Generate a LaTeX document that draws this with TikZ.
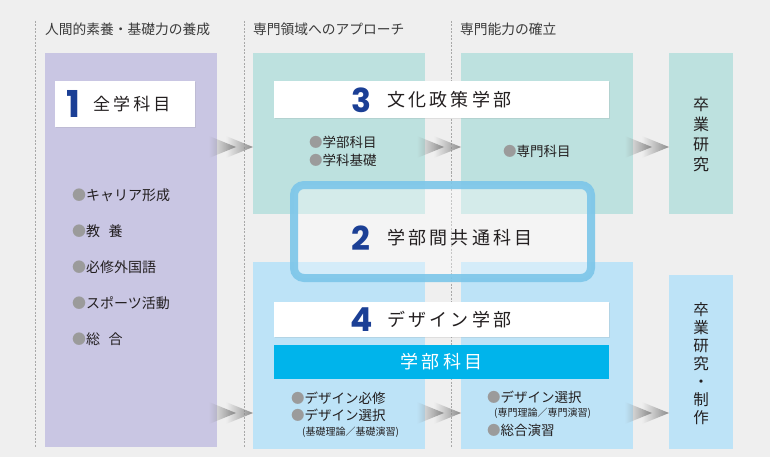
\documentclass[tikz,border=0pt]{standalone}
\usepackage{fontspec}
\setmainfont{Noto Sans CJK JP}
\newfontfamily\numfont{Poppins}
\newfontfamily\spacedfont{Noto Sans CJK JP}[LetterSpace=18]
\usetikzlibrary{positioning,fadings,shadows}

\definecolor{bggray}{HTML}{EFEFEF}
\definecolor{lavender}{HTML}{C9C6E3}
\definecolor{mint}{HTML}{BDE1DF}
\definecolor{skyblue}{HTML}{BDE3F7}
\definecolor{cyanbar}{HTML}{00B4EB}
\definecolor{ringblue}{HTML}{7CC6E9}
\definecolor{numblue}{HTML}{1B3F95}
\definecolor{txtdark}{HTML}{231F20}
\definecolor{bulgray}{HTML}{9B9B9B}
\definecolor{headgray}{HTML}{3A3A3A}
\definecolor{dashgray}{HTML}{A8A8A8}

\newcommand\bulletdot{{\color{bulgray}●}}

\tikzset{
  colbox/.style={draw=none, inner sep=0, outer sep=0, anchor=north west},
  titlebox/.style={colbox, fill=white,
    drop shadow={shadow xshift=1pt, shadow yshift=-1.2pt, opacity=0.15}},
  ringbox/.style={colbox, draw=ringblue, line width=8, rounded corners=10,
    fill=white, fill opacity=0.35, draw opacity=0.9},
  numtxt/.style={inner sep=0, anchor=west, text=numblue,
    font=\numfont\bfseries\fontsize{33}{33}\selectfont},
  titletxt/.style={inner sep=0, text=txtdark, font=\spacedfont\fontsize{18}{18}\selectfont},
  itemtxt/.style={inner sep=0, anchor=west, align=left, text=txtdark,
    font=\fontsize{13.5}{18}\selectfont},
  smalltxt/.style={inner sep=0, anchor=west, text=txtdark, font=\fontsize{10}{12}\selectfont},
  vtxt/.style={inner sep=0, align=center, text=txtdark, font=\fontsize{16}{20}\selectfont},
  headtxt/.style={inner sep=0, anchor=west, text=headgray, font=\fontsize{13.75}{16}\selectfont},
  sepline/.style={draw=dashgray, line width=0.6, dash pattern=on 2pt off 1.5pt},
  chevron/.pic={
    \fill[black!45, path fading=west] (-44,-11) -- (-17,0) -- (-44,11) -- cycle;
    \fill[black!45, path fading=west] (-27,-11) -- (0,0) -- (-27,11) -- cycle;
  }
}

\begin{document}
\begin{tikzpicture}[x=1pt, y=-1pt]
  \fill[bggray] (0,0) rectangle (770,457);% background
  \useasboundingbox (0,0) rectangle (770,457);
  % column heads
  \node[headtxt] (head1) at (45,29) {人間的素養・基礎力の養成};
  \node[headtxt] (head2) at (253,29) {専門領域へのアプローチ};
  \node[headtxt] (head3) at (460,29) {専門能力の確立};
  \draw[sepline] (35,21) -- (35,447);% left rule
  \draw[sepline] (244,21) -- (244,447);% second rule
  \draw[sepline] (451,21) -- (451,447);% third rule
  % coloured columns
  \node[colbox, fill=lavender, minimum width=172, minimum height=394] (allcol) at (45,53) {};
  \node[colbox, fill=mint, minimum width=172, minimum height=161] (cultA) at (253,53) {};
  \node[colbox, fill=mint, minimum width=172, minimum height=161] (cultB) at (461,53) {};
  \node[colbox, fill=mint, minimum width=64, minimum height=161] (cultC) at (669,53) {};
  \node[colbox, fill=skyblue, minimum width=172, minimum height=187] (desA) at (253,262) {};
  \node[colbox, fill=skyblue, minimum width=172, minimum height=187] (desB) at (461,262) {};
  \node[colbox, fill=skyblue, minimum width=64, minimum height=174] (desC) at (669,275) {};
  % chevrons between the columns
  \coordinate (rowA) at (0,147);
  \coordinate (rowB) at (0,413);
  \pic at (cultA.west |- rowA) {chevron};
  \pic at (cultB.west |- rowA) {chevron};
  \pic at (cultC.west |- rowA) {chevron};
  \pic at (desA.west |- rowB) {chevron};
  \pic at (desB.west |- rowB) {chevron};
  \pic at (desC.west |- rowB) {chevron};
  % 1: all students
  \node[titlebox, minimum width=140, minimum height=46] (box1) at (55,81) {};
  \node[numtxt, font=\numfont\bfseries\fontsize{37}{37}\selectfont] (n1) at (66,104) {1};
  \node[titletxt, font=\spacedfont\fontsize{17}{17}\selectfont, anchor=west] (t1) at (93,104) {全学科目};
  \node[itemtxt, font=\fontsize{14}{36}\selectfont] (allitems) at (72,267)
    {\bulletdot キャリア形成\\\bulletdot 教\hspace{0.6em}養\\\bulletdot 必修外国語\\%
     \bulletdot スポーツ活動\\\bulletdot 総\hspace{0.6em}合};
  % 3: culture policy
  \node[titlebox, minimum width=335, minimum height=37] (box3) at (274,81) {};
  \node[numtxt] (n3) at (351,100) {3};
  \node[titletxt, anchor=west] (t3) at (387,100) {文化政策学部};
  \node[itemtxt] (cultitems) at (309,151) {\bulletdot 学部科目\\\bulletdot 学科基礎};
  \node[itemtxt] (cultspec) at (503,151) {\bulletdot 専門科目};
  % 2: shared subjects
  \node[ringbox, minimum width=297, minimum height=93] (common) at (294,185) {};
  \node[numtxt] (n2) at (351,238) {2};
  \node[titletxt, anchor=west] (t2) at (387,238) {学部間共通科目};
  % 4: design
  \node[titlebox, minimum width=335, minimum height=35] (box4) at (274,302) {};
  \node[numtxt] (n4) at (350,320) {4};
  \node[titletxt, anchor=west] (t4) at (387,320) {デザイン学部};
  \node[colbox, fill=cyanbar, minimum width=335, minimum height=34] (bar4) at (274,345) {};
  \node[titletxt, text=white] (bar4txt) at (bar4.center) {学部科目};
  \node[itemtxt] (desA1) at (291,398) {\bulletdot デザイン必修};
  \node[itemtxt] (desA2) at (291,415) {\bulletdot デザイン選択};
  \node[smalltxt] (desA3) at (302,432) {(基礎理論／基礎演習)};
  \node[itemtxt] (desB1) at (487,397) {\bulletdot デザイン選択};
  \node[smalltxt] (desB2) at (494,413) {(専門理論／専門演習)};
  \node[itemtxt] (desB3) at (487,430) {\bulletdot 総合演習};
  % graduation
  \node[vtxt] (gradA) at (701,134) {卒\\業\\研\\究};
  \node[vtxt, font=\fontsize{15.5}{18}\selectfont] (gradB) at (701,364) {卒\\業\\研\\究\\・\\制\\作};
\end{tikzpicture}
\end{document}
